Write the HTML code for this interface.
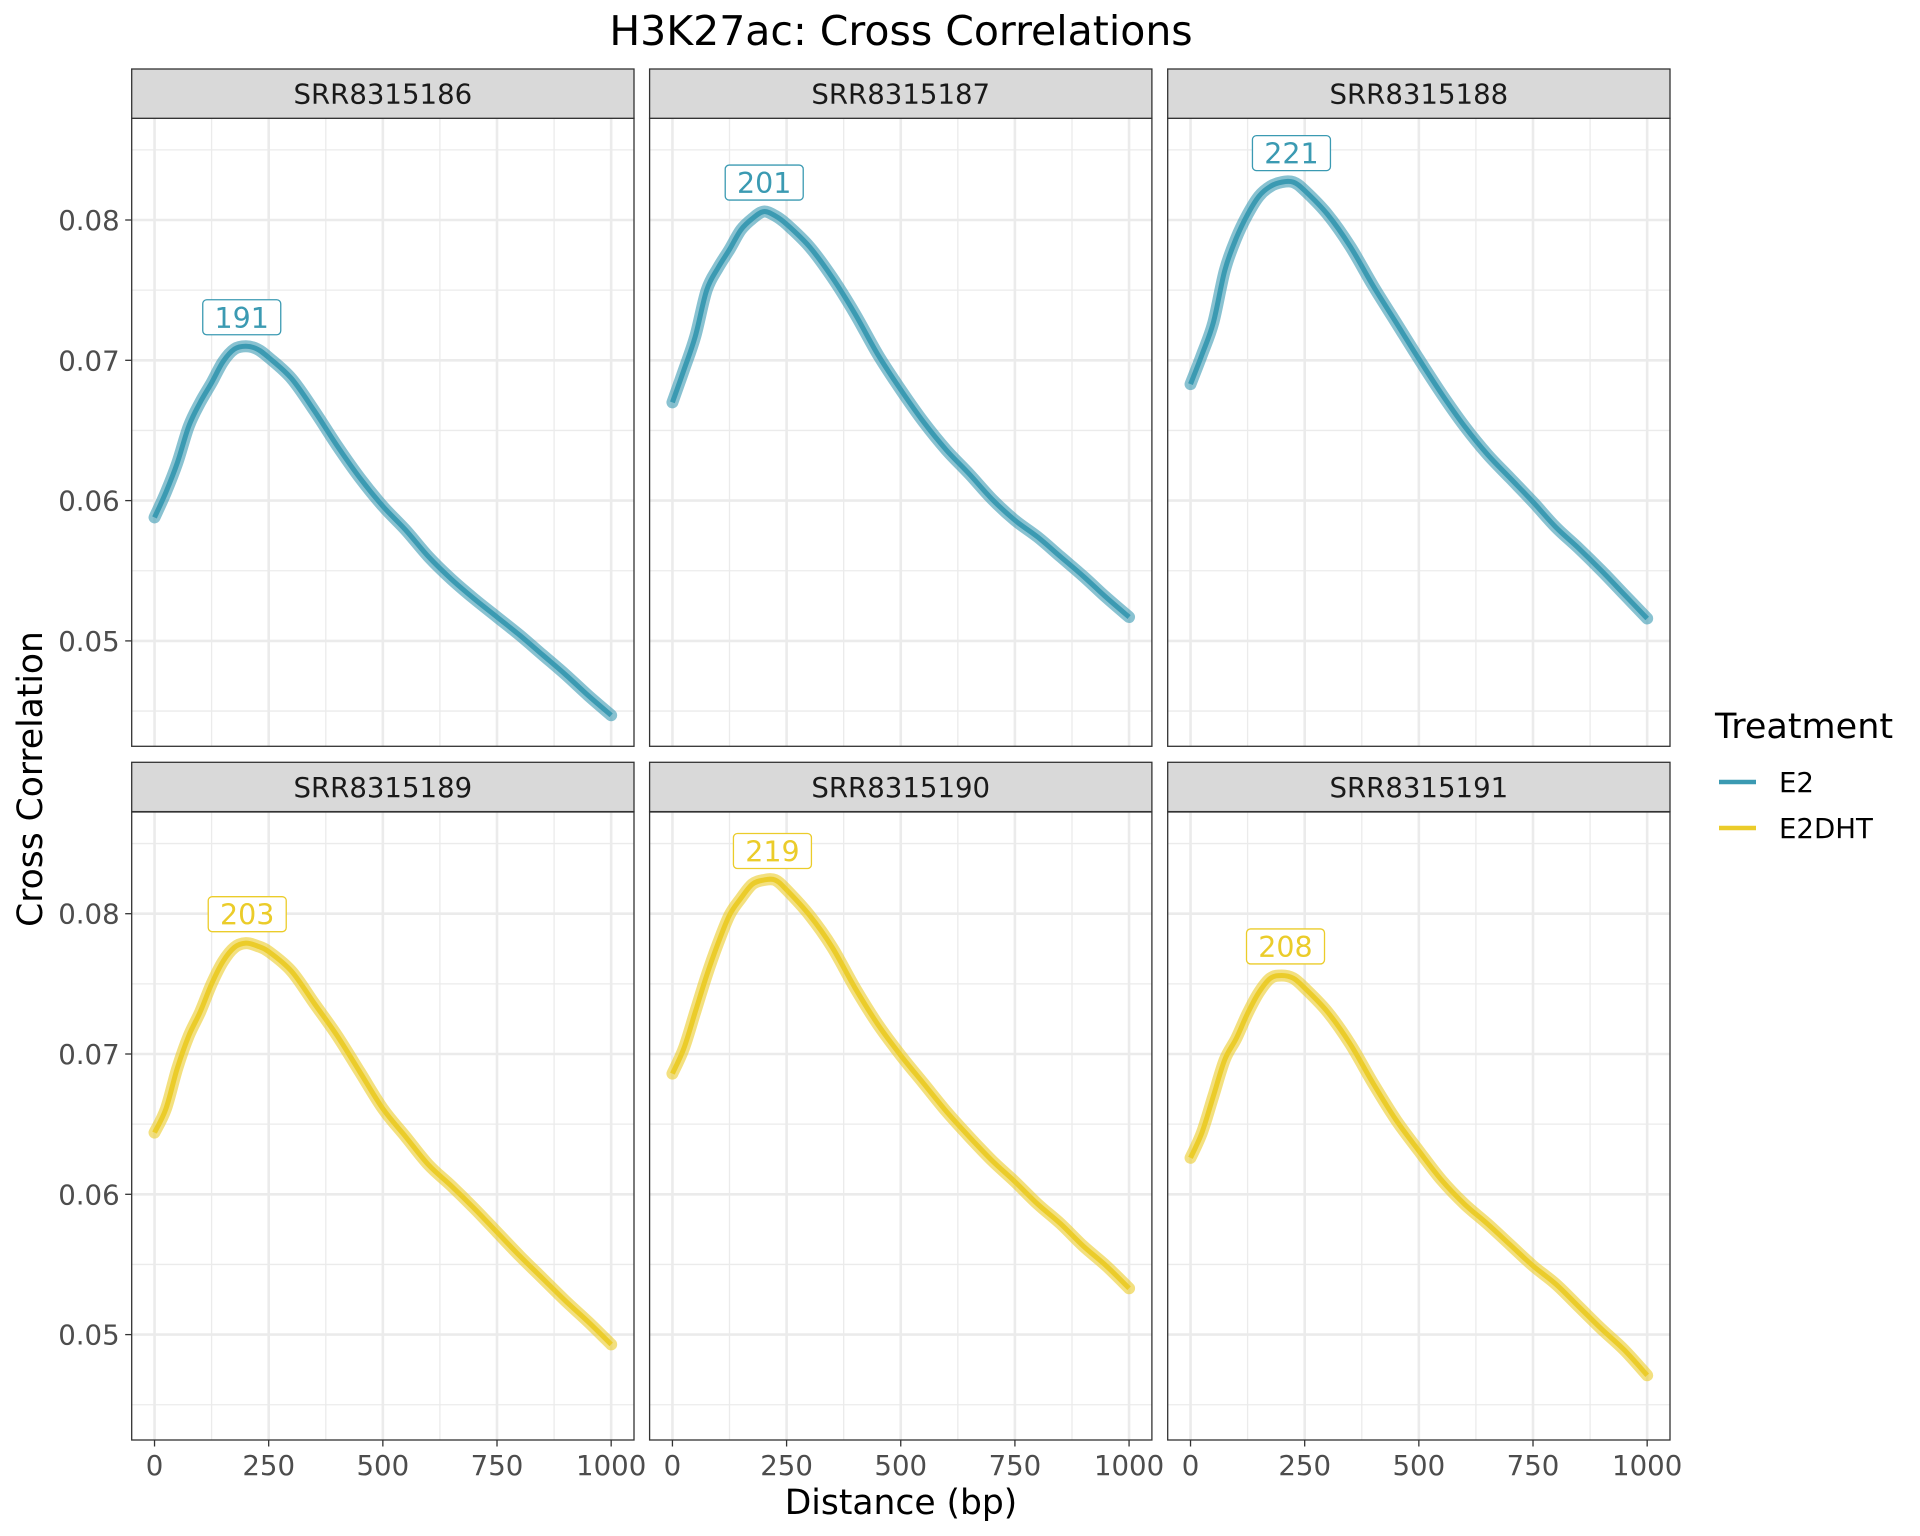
<!DOCTYPE html>
<html><head><meta charset="utf-8"><style>
html,body{margin:0;padding:0;background:#fff;}
svg{display:block;font-family:"DejaVu Sans","Liberation Sans",sans-serif;}
</style></head><body>
<svg id="chart" width="1920" height="1536" viewBox="0 0 1920 1536" xmlns="http://www.w3.org/2000/svg">
<rect width="1920" height="1536" fill="#fff"/>
<text x="901" y="45" font-size="41" text-anchor="middle" fill="#000">H3K27ac: Cross Correlations</text>
<text transform="translate(42,779) rotate(-90)" font-size="34.5" text-anchor="middle" fill="#000">Cross Correlation</text>
<text x="901" y="1514" font-size="34.5" text-anchor="middle" fill="#000">Distance (bp)</text>
<g>
<text x="1715" y="738" font-size="35" fill="#000">Treatment</text>
<g>
<line x1="1719" y1="782" x2="1756" y2="782" stroke="#3B9AB2" stroke-width="4.5"/>
<text x="1779" y="792" font-size="27.6" fill="#000">E2</text></g>
<g>
<line x1="1719" y1="828" x2="1756" y2="828" stroke="#EBCC2A" stroke-width="4.5"/>
<text x="1779" y="838" font-size="27.6" fill="#000">E2DHT</text></g>
</g>
<g id="panels"></g>
</svg>
<script>
const samples = ["SRR8315186","SRR8315187","SRR8315188","SRR8315189","SRR8315190","SRR8315191"];
const treatments = ["E2","E2","E2","E2DHT","E2DHT","E2DHT"];
const peakLabels = [191,201,221,203,219,208];
const distances = [0,25,50,75,100,125,150,175,200,225,250,300,350,400,450,500,550,600,650,700,750,800,850,900,950,1000];
const ccSRR8315186 = [0.0588,0.0606,0.0627,0.0653,0.0670,0.0684,0.0699,0.0708,0.0710,0.0708,0.0702,0.0687,0.0664,0.0639,0.0616,0.0596,0.0579,0.0560,0.0544,0.0530,0.0517,0.0504,0.0490,0.0476,0.0461,0.0447];
const ccSRR8315187 = [0.0670,0.0693,0.0717,0.0750,0.0766,0.0779,0.0793,0.0801,0.0806,0.0803,0.0797,0.0781,0.0759,0.0733,0.0704,0.0679,0.0656,0.0636,0.0619,0.0601,0.0586,0.0574,0.0560,0.0546,0.0531,0.0517];
const ccSRR8315188 = [0.0683,0.0704,0.0727,0.0764,0.0787,0.0804,0.0817,0.0824,0.0827,0.0827,0.0821,0.0804,0.0781,0.0753,0.0727,0.0701,0.0676,0.0653,0.0633,0.0616,0.0599,0.0581,0.0566,0.0550,0.0533,0.0516];
const ccSRR8315189 = [0.0644,0.0661,0.0690,0.0713,0.0730,0.0750,0.0766,0.0776,0.0779,0.0777,0.0773,0.0759,0.0736,0.0713,0.0687,0.0661,0.0641,0.0621,0.0606,0.0590,0.0573,0.0556,0.0540,0.0524,0.0509,0.0493];
const ccSRR8315190 = [0.0686,0.0704,0.0730,0.0756,0.0779,0.0799,0.0811,0.0821,0.0824,0.0824,0.0817,0.0799,0.0776,0.0747,0.0721,0.0699,0.0679,0.0659,0.0641,0.0624,0.0609,0.0593,0.0579,0.0563,0.0549,0.0533];
const ccSRR8315191 = [0.0626,0.0644,0.0670,0.0696,0.0711,0.0729,0.0744,0.0754,0.0756,0.0754,0.0747,0.0730,0.0707,0.0679,0.0653,0.0631,0.0610,0.0593,0.0579,0.0564,0.0549,0.0536,0.0520,0.0504,0.0489,0.0471];
const xTicks = [0,250,500,750,1000];
const xTickLabels = ["0","250","500","750","1000"];
const yTicks = [0.05,0.06,0.07,0.08];
const yTickLabels = ["0.05","0.06","0.07","0.08"];

const series = [ccSRR8315186,ccSRR8315187,ccSRR8315188,ccSRR8315189,ccSRR8315190,ccSRR8315191];
const colors = {E2:"#3B9AB2",E2DHT:"#EBCC2A"};
const NS="http://www.w3.org/2000/svg";
const colX=[131.7,649.6,1167.7], PW=502.3, PH=628;
const rowStrip=[69,762.3], rowTop=[118.3,812], SH=49.3;
const xDom=[-50,1050], yDom=[0.042488,0.087249];
function mk(tag,attrs,parent){const e=document.createElementNS(NS,tag);for(const k in attrs)e.setAttribute(k,attrs[k]);parent.appendChild(e);return e;}
function xs(v,c){return colX[c]+(v-xDom[0])/(xDom[1]-xDom[0])*PW;}
function ys(v,r){return rowTop[r]+PH-(v-yDom[0])/(yDom[1]-yDom[0])*PH;}
function smoothPath(pts){let d="M"+pts[0][0].toFixed(2)+","+pts[0][1].toFixed(2);
 for(let i=0;i<pts.length-1;i++){const p0=pts[Math.max(0,i-1)],p1=pts[i],p2=pts[i+1],p3=pts[Math.min(pts.length-1,i+2)];
  const c1=[p1[0]+(p2[0]-p0[0])/6,p1[1]+(p2[1]-p0[1])/6],c2=[p2[0]-(p3[0]-p1[0])/6,p2[1]-(p3[1]-p1[1])/6];
  d+=" C"+c1[0].toFixed(2)+","+c1[1].toFixed(2)+" "+c2[0].toFixed(2)+","+c2[1].toFixed(2)+" "+p2[0].toFixed(2)+","+p2[1].toFixed(2);}
 return d;}
const root=document.getElementById("panels");
for(let i=0;i<6;i++){
 const c=i%3,r=Math.floor(i/3);
 const g=mk("g",{},root);
 
 
 mk("rect",{x:colX[c],y:rowTop[r],width:PW,height:PH,fill:"#fff"},g);
 for(let v=125;v<=1000;v+=250){mk("line",{x1:xs(v,c),x2:xs(v,c),y1:rowTop[r],y2:rowTop[r]+PH,stroke:"#EBEBEB","stroke-width":1.3},g);}
 for(const v of [0.045,0.055,0.065,0.075,0.085]){mk("line",{x1:colX[c],x2:colX[c]+PW,y1:ys(v,r),y2:ys(v,r),stroke:"#EBEBEB","stroke-width":1.3},g);}
 for(const v of xTicks){mk("line",{x1:xs(v,c),x2:xs(v,c),y1:rowTop[r],y2:rowTop[r]+PH,stroke:"#EBEBEB","stroke-width":2.6},g);}
 for(const v of yTicks){mk("line",{x1:colX[c],x2:colX[c]+PW,y1:ys(v,r),y2:ys(v,r),stroke:"#EBEBEB","stroke-width":2.6},g);}
 const col=colors[treatments[i]];
 const pts=distances.map((d,k)=>[xs(d,c),ys(series[i][k],r)]);
 const halo=mk("path",{d:smoothPath(pts),fill:"none",stroke:col,"stroke-width":12,"stroke-opacity":0.6,"stroke-linecap":"round","stroke-linejoin":"round"},g);
 
 
 const line=mk("path",{d:smoothPath(pts),fill:"none",stroke:col,"stroke-width":5,"stroke-linejoin":"round"},g);
 
 
 const peakV=Math.max(...series[i]);
 const lx=xs(peakLabels[i],c), ly=ys(peakV,r)-29;
 const lg=mk("g",{},g);
 
 
 mk("rect",{x:lx-39,y:ly-17.5,width:78,height:35,rx:4,fill:"#fff",stroke:col,"stroke-width":1.3},lg);
 const lt=mk("text",{x:lx,y:ly+10.5,"font-size":28.5,"text-anchor":"middle",fill:col},lg);
 lt.textContent=String(peakLabels[i]);
 mk("rect",{x:colX[c],y:rowTop[r],width:PW,height:PH,fill:"none",stroke:"#333","stroke-width":1.3},g);
 const sg=mk("g",{},g);
 
 
 mk("rect",{x:colX[c],y:rowStrip[r],width:PW,height:SH,fill:"#D9D9D9",stroke:"#333","stroke-width":1.3},sg);
 const st=mk("text",{x:colX[c]+PW/2,y:rowStrip[r]+34.5,"font-size":27.6,"text-anchor":"middle",fill:"#1A1A1A"},sg);
 st.textContent=samples[i];
 if(c===0){for(let k=0;k<yTicks.length;k++){const y=ys(yTicks[k],r);
   mk("line",{x1:colX[c]-6.5,x2:colX[c],y1:y,y2:y,stroke:"#333","stroke-width":1.3},g);
   const t=mk("text",{x:colX[c]-12,y:y+10,"font-size":27.6,"text-anchor":"end",fill:"#4D4D4D"},g);
   
   
   t.textContent=yTickLabels[k];}}
 if(r===1){for(let k=0;k<xTicks.length;k++){const x=xs(xTicks[k],c);
   mk("line",{x1:x,x2:x,y1:rowTop[r]+PH,y2:rowTop[r]+PH+6.5,stroke:"#333","stroke-width":1.3},g);
   const t=mk("text",{x:x,y:rowTop[r]+PH+35,"font-size":27.6,"text-anchor":"middle",fill:"#4D4D4D"},g);
   
   
   t.textContent=xTickLabels[k];}}
}
</script>
</body></html>
